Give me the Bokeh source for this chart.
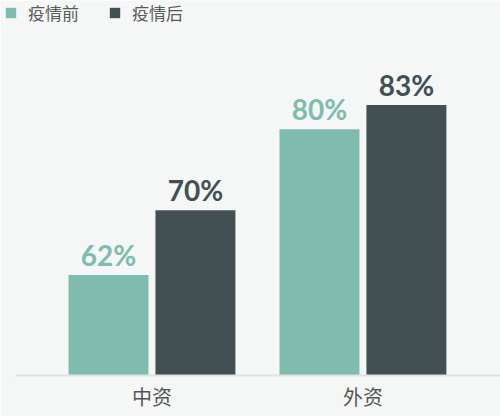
from bokeh.plotting import figure
from bokeh.models import Range1d, Legend, LegendItem, ColumnDataSource, FixedTicker
from bokeh.transform import dodge
from bokeh.core.properties import value
from bokeh.embed import file_html
from bokeh.resources import INLINE

categories = ["中资", "外资"]
series_names = ["疫情前", "疫情后"]
before = [62, 80]
after = [70, 83]
before_labels = [f"{v}%" for v in before]
after_labels = [f"{v}%" for v in after]

TEAL = "#80bbaf"
DARK = "#425054"
BG = "#f5f7f6"

idx = list(range(len(categories)))
src = ColumnDataSource(dict(x=idx, before=before, after=after,
                            bl=before_labels, al=after_labels))

p = figure(x_range=Range1d(-0.699, 1.652), y_range=Range1d(49.6, 95.9), width=500, height=416,
           output_backend="svg", toolbar_location=None, y_axis_location=None,
           min_border_left=4, min_border_right=0, min_border_top=0, min_border_bottom=41,
           background_fill_color=BG, border_fill_color=BG, outline_line_color=None)

off = 0.206
bw = 0.379
r1 = p.vbar(x=dodge('x', -off), top='before', bottom=0, width=bw,
            source=src, fill_color=TEAL, line_color=None)
r2 = p.vbar(x=dodge('x', off), top='after', bottom=0, width=bw,
            source=src, fill_color=DARK, line_color=None)

p.text(x=dodge('x', -off), y='before', text='bl', source=src,
       text_align="center", text_baseline="alphabetic", y_offset=-20,
       text_font=value("Lato"), text_font_style="bold", text_font_size="28px", text_color=TEAL)
p.text(x=dodge('x', off), y='after', text='al', source=src,
       text_align="center", text_baseline="alphabetic", y_offset=-20,
       text_font=value("Lato"), text_font_style="bold", text_font_size="28px", text_color=DARK)

p.xgrid.visible = False
p.ygrid.visible = False
ax = p.xaxis[0]
ax.ticker = FixedTicker(ticks=idx)
ax.major_label_overrides = {i: c for i, c in zip(idx, categories)}
ax.bounds = (-0.647, 1.652)
ax.axis_line_color = "#dfe3e1"
ax.axis_line_width = 2
ax.major_tick_line_color = None
ax.minor_tick_line_color = None
ax.major_label_text_font = "Noto Sans CJK SC"
ax.major_label_text_font_size = "20px"
ax.major_label_text_color = "#555555"
ax.major_label_standoff = 0

legend = Legend(items=[LegendItem(label=series_names[0], renderers=[r1]),
                       LegendItem(label=series_names[1], renderers=[r2])],
                orientation="horizontal", location=(0, 350),
                glyph_width=13, glyph_height=13, label_standoff=11, spacing=29,
                padding=0, margin=0, border_line_color=None, background_fill_alpha=0,
                label_text_font="Noto Sans CJK SC", label_text_font_size="17px",
                label_text_color="#595959")
p.add_layout(legend)

open("out.html", "w").write(file_html(p, INLINE))
